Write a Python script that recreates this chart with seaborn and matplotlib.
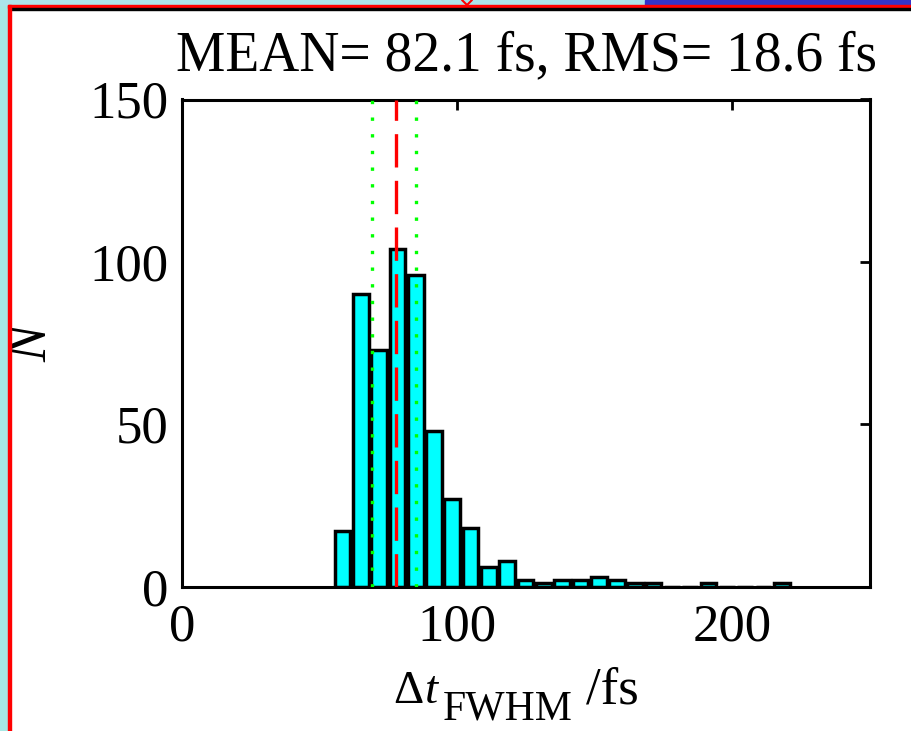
import numpy as np
import pandas as pd
import matplotlib
matplotlib.use("Agg")
import matplotlib.pyplot as plt
from matplotlib.patches import Rectangle
from matplotlib.lines import Line2D
import seaborn as sns

# Pulse-width histogram: counts per bin
counts = [17, 90, 73, 104, 96, 48, 27, 18, 6, 8, 2, 1, 2, 2, 3, 2, 1, 1, 0, 0, 1, 0, 0, 0, 1]
bin_start = 55.0      # fs, left edge of first bin
bin_width = 6.65      # fs
center_line = 77.8    # fs, red dashed marker
band_lines = [69.2, 85.2]  # fs, green dotted markers
title_text = "MEAN= 82.1 fs, RMS= 18.6 fs"
x_ticks = [0, 100, 200]
y_ticks = [0, 50, 100, 150]

n_bins = len(counts)
bin_end = bin_start + bin_width * n_bins
centers = bin_start + bin_width * (np.arange(n_bins) + 0.5)
hist_df = pd.DataFrame({"dt": centers, "n": counts})

sns.set_theme(style="white")
plt.rcParams["font.family"] = ["Liberation Serif", "DejaVu Serif"]
plt.rcParams["text.color"] = "black"
plt.rcParams["axes.labelcolor"] = "black"

W, H = 911, 731
fig = plt.figure(figsize=(W / 100, H / 100), dpi=100, facecolor="white")


def fx(x):
    return x / W


def fy(y):
    return 1 - y / H


ax = fig.add_axes([fx(182), fy(586.7), fx(870) - fx(182), fy(99.5) - fy(586.7)])
ax.set_facecolor("white")

sns.histplot(data=hist_df, x="dt", weights="n", binwidth=bin_width,
             binrange=(bin_start, bin_end), shrink=0.86,
             color="#00FFFF", edgecolor="black", linewidth=2.5, alpha=1,
             ax=ax, zorder=2)
for bar in ax.patches:
    bar.set_linewidth(2.5)
    bar.set_edgecolor("black")
    bar.set_facecolor("#00FFFF")

ax.axvline(center_line, color="#FF0000", lw=2.4, dashes=(10, 4), zorder=3)
for xv in band_lines:
    ax.axvline(xv, color="#00FF00", lw=2.4, dashes=(1, 4), zorder=3)

ax.set_xlim(0, 250)
ax.set_ylim(0, 150)
ax.set_xticks(x_ticks)
ax.set_yticks(y_ticks)
ax.tick_params(axis="both", direction="in", length=7, width=2,
               top=True, right=True, labelsize=38, colors="black")
ax.tick_params(axis="x", pad=12)
ax.tick_params(axis="y", pad=10)
for s in ax.spines.values():
    s.set_visible(True)
    s.set_color("black")
    s.set_linewidth(2.2)

ax.set_title(title_text, fontsize=40, pad=21, color="black")
ax.set_ylabel("N", fontsize=40, fontstyle="italic", rotation=90,
              ha="center", va="center", color="black")
ax.yaxis.set_label_coords((32 - 182) / 688, 0.5)
ax.set_xlabel("")

# Composite x label: Delta t with a large FWHM subscript, then the unit
fig.text(fx(393), fy(703), "\u0394", fontsize=34, ha="left", va="baseline", color="black")
fig.text(fx(425), fy(703), "t", fontsize=34, fontstyle="italic", ha="left", va="baseline", color="black")
fig.text(fx(443), fy(719), "FWHM", fontsize=30, ha="left", va="baseline", color="black")
fig.text(fx(586), fy(703), "/fs", fontsize=38, ha="left", va="baseline", color="black")

# Window frame around the plot
frame = [
    Rectangle((0, fy(731)), fx(8), fy(0) - fy(731), color="#A6E8E4"),
    Rectangle((0, fy(5)), fx(645), fy(0) - fy(5), color="#ACE4EA"),
    Rectangle((fx(645), fy(5)), 1 - fx(645), fy(0) - fy(5), color="#3434C8"),
    Rectangle((fx(8), fy(8)), 1 - fx(8), fy(5) - fy(8), color="#FF0000"),
    Rectangle((fx(11), fy(10)), 1 - fx(11), fy(8) - fy(10), color="black"),
    Rectangle((fx(8), fy(731)), fx(3), fy(5) - fy(731), color="#FF0000"),
]
for p in frame:
    p.set_transform(fig.transFigure)
    fig.patches.append(p)
fig.lines.append(Line2D([fx(462), fx(467), fx(472)], [fy(0), fy(5), fy(0)],
                        transform=fig.transFigure, color="#FF0000", lw=1.5))

fig.savefig("out.png", dpi=100, facecolor="white")
